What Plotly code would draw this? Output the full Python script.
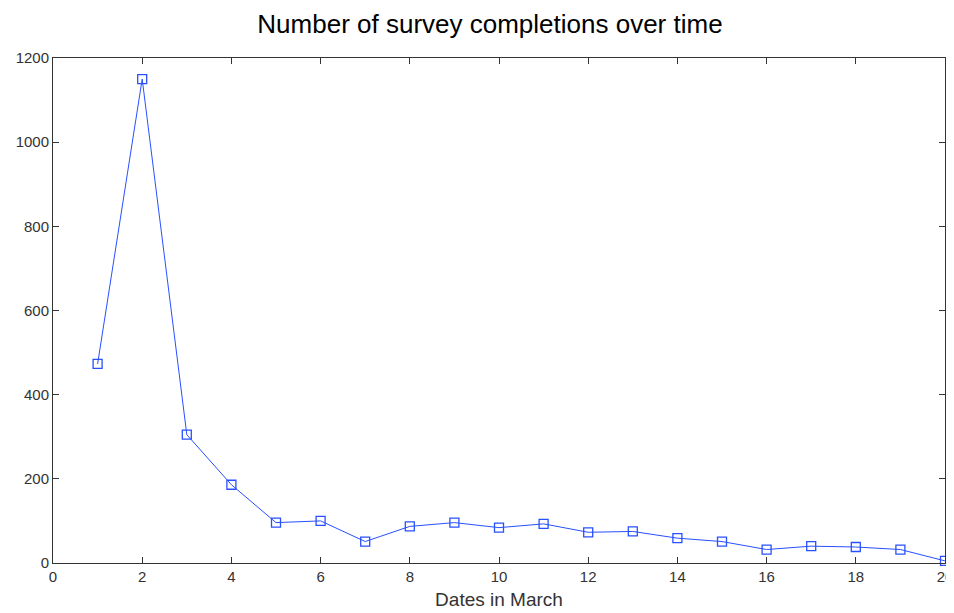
import plotly.graph_objects as go

days = list(range(1, 21))
completions = [473, 1150, 305, 186, 96, 100, 51, 87, 96, 84, 93, 73, 75, 59, 51, 32, 40, 38, 32, 5]
x_ticks = [0, 2, 4, 6, 8, 10, 12, 14, 16, 18, 20]
y_ticks = [0, 200, 400, 600, 800, 1000, 1200]

fig = go.Figure()
fig.add_trace(go.Scatter(
    x=days, y=completions, mode="lines+markers",
    line=dict(color="#2850ff", width=1),
    marker=dict(symbol="square-open", size=9, color="#2850ff", line=dict(width=1.3)),
    showlegend=False, cliponaxis=False,
))

axis_common = dict(
    showgrid=False, zeroline=False, showline=True, linecolor="#333333", linewidth=1,
    mirror="ticks", ticks="inside", ticklen=6, tickcolor="#333333", automargin=False,
    ticklabeloverflow="allow",
    tickfont=dict(family="Liberation Sans, Arial", size=15, color="#333333"),
)
fig.update_xaxes(range=[0, 20], tickvals=x_ticks, **axis_common,
                 title=dict(text="Dates in March", standoff=8,
                            font=dict(family="Liberation Sans, Arial", size=19, color="#333333")))
fig.update_yaxes(range=[0, 1200], tickvals=y_ticks, **axis_common)

fig.update_layout(
    width=946, height=605,
    paper_bgcolor="white", plot_bgcolor="white",
    margin=dict(l=45, r=9, t=50, b=50),
    title=dict(text="Number of survey completions over time", x=0.5095, xref="container", y=0.974, yanchor="middle",
               font=dict(family="Liberation Sans, Arial", size=26, color="black")),
)

fig.write_html("out.html")
